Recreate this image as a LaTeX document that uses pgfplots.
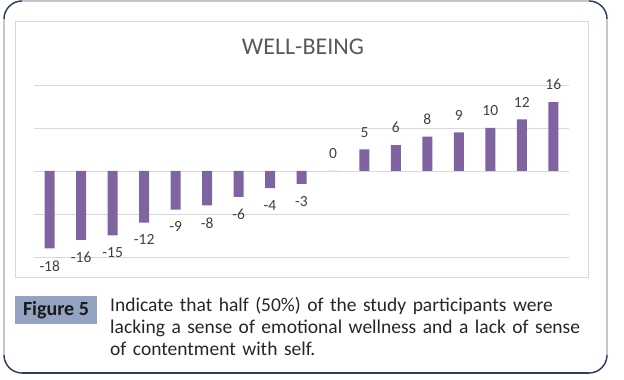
\documentclass[border=0pt]{standalone}
\usepackage{pgfplots}
\pgfplotsset{compat=1.18}
\usepackage{fontspec}
\setmainfont{Carlito}
\definecolor{barpurple}{HTML}{8064A2}
\definecolor{gridgray}{HTML}{D9D9D9}
\definecolor{titlegray}{HTML}{595959}
\definecolor{labelgray}{HTML}{404040}
\definecolor{framegray}{HTML}{A4A8B4}
\definecolor{framenavy}{HTML}{2C3E5C}
\definecolor{figbox}{HTML}{95A3C2}
\begin{document}
\begin{tikzpicture}[x=1pt,y=1pt]
\path[use as bounding box] (0,0) rectangle (624,380);
% outer frame
\draw[framegray, line width=1.3pt, rounded corners=18pt] (4,379) rectangle (607,7);
\draw[framenavy, line width=1.3pt] (22,7) -- (589,7);
\draw[framenavy, line width=1.3pt] (4,25) arc[start angle=180,end angle=270,radius=18];
\draw[framenavy, line width=1.3pt] (589,7) arc[start angle=270,end angle=360,radius=18];
\draw[framenavy, line width=1.3pt] (4,361) arc[start angle=180,end angle=90,radius=18];
\draw[framenavy, line width=1.3pt] (589,379) arc[start angle=90,end angle=0,radius=18];
% chart area box
\draw[gridgray, line width=0.8pt] (15,359) rectangle (588,103);
% title
\node[font=\fontsize{24}{28}\selectfont, text=titlegray] at (303,333) {WELL-BEING};
\begin{axis}[
  at={(34pt,123pt)}, anchor=south west,
  scale only axis, width=535pt, height=172pt,
  xmin=-0.5, xmax=16.5, ymin=-20, ymax=20,
  axis line style={draw=none},
  xtick=\empty,
  ytick={-20,-10,0,10,20}, yticklabels={},
  major tick length=0pt,
  ymajorgrids, grid style={gridgray, line width=0.8pt},
  ybar, bar width=10pt,
  nodes near coords,
  /pgf/number format/assume math mode=true,
  every node near coord/.append style={font=\fontsize{15.5}{18}\selectfont, text=labelgray, inner xsep=0pt, inner ysep=12pt},
  clip=false,
]
\addplot[fill=barpurple, draw=none] coordinates {
(0,-18) (1,-16) (2,-15) (3,-12) (4,-9) (5,-8) (6,-6) (7,-4) (8,-3)
(9,0) (10,5) (11,6) (12,8) (13,9) (14,10) (15,12) (16,16)};
\end{axis}
% figure label
\fill[figbox] (15,84) rectangle (97,56);
\node[font=\fontsize{20}{24}\selectfont\bfseries, text=black!90] at (56,70) {Figure 5};
\node[anchor=base west, text width=485pt, inner sep=0pt, font=\fontsize{19.5}{22}\selectfont, text=black!85] at (110,68)
{\hyphenpenalty=10000 Indicate that half (50\%) of the study participants were\linebreak lacking a sense of emotional wellness and a lack of sense\linebreak of contentment with self.};
\end{tikzpicture}
\end{document}
